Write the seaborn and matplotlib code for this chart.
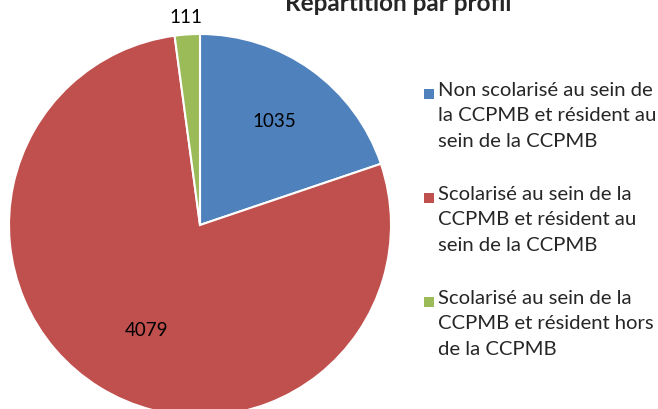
import numpy as np
import matplotlib
matplotlib.use("Agg")
import matplotlib.pyplot as plt
import seaborn as sns
from matplotlib.patches import Rectangle

sns.set_theme(style="white")
plt.rcParams['font.family'] = ['Lato', 'DejaVu Sans']

categories = [
    "Non scolarisé au sein de\nla CCPMB et résident au\nsein de la CCPMB",
    "Scolarisé au sein de la\nCCPMB et résident au\nsein de la CCPMB",
    "Scolarisé au sein de la\nCCPMB et résident hors\nde la CCPMB",
]
values = [1035, 4079, 111]
colors = ["#4F81BD", "#C0504D", "#9BBB59"]
title = "Répartition par profil"

W, H = 658, 409
fig = plt.figure(figsize=(W / 100, H / 100), dpi=100)
ax = fig.add_axes([0, 0, 1, 1])

wedges, _ = ax.pie(values, colors=colors, startangle=90, counterclock=False,
                   wedgeprops=dict(edgecolor="white", linewidth=1.5))

# data labels (Excel "best fit" style placement)
label_r = [0.67, 0.62, 1.09]
label_shift = [0, 5, 0]
total = sum(values)
start = 90.0
for v, r, s in zip(values, label_r, label_shift):
    span = 360.0 * v / total
    mid = np.deg2rad(start - span / 2 + s)
    ax.text(r * np.cos(mid), r * np.sin(mid), str(v), ha="center", va="center",
            fontsize=13.5, color="black")
    start -= span

# map data units to pixels: center at (200,225), radius 191 px
R = 191.0
cx, cy = 200.0, 225.0
ax.set_xlim(-cx / R, (W - cx) / R)
ax.set_ylim((cy - H) / R, cy / R)
ax.set_aspect("auto")
ax.axis("off")

# legend (Excel style: marker aligned with the first line)
for i, (lab, col) in enumerate(zip(categories, colors)):
    top = 82 + i * 104
    fig.add_artist(Rectangle((424 / W, 1 - (top + 17) / H), 10 / W, 10 / H,
                             transform=fig.transFigure, facecolor=col,
                             edgecolor="none"))
    fig.text(438 / W, 1 - top / H, lab, ha="left", va="top",
             fontsize=14.6, linespacing=1.6)

fig.text(398 / W, 1 - 11 / H, title, ha="center", va="baseline",
         fontsize=17.5, fontweight="bold")

fig.savefig("out.png", dpi=100)
